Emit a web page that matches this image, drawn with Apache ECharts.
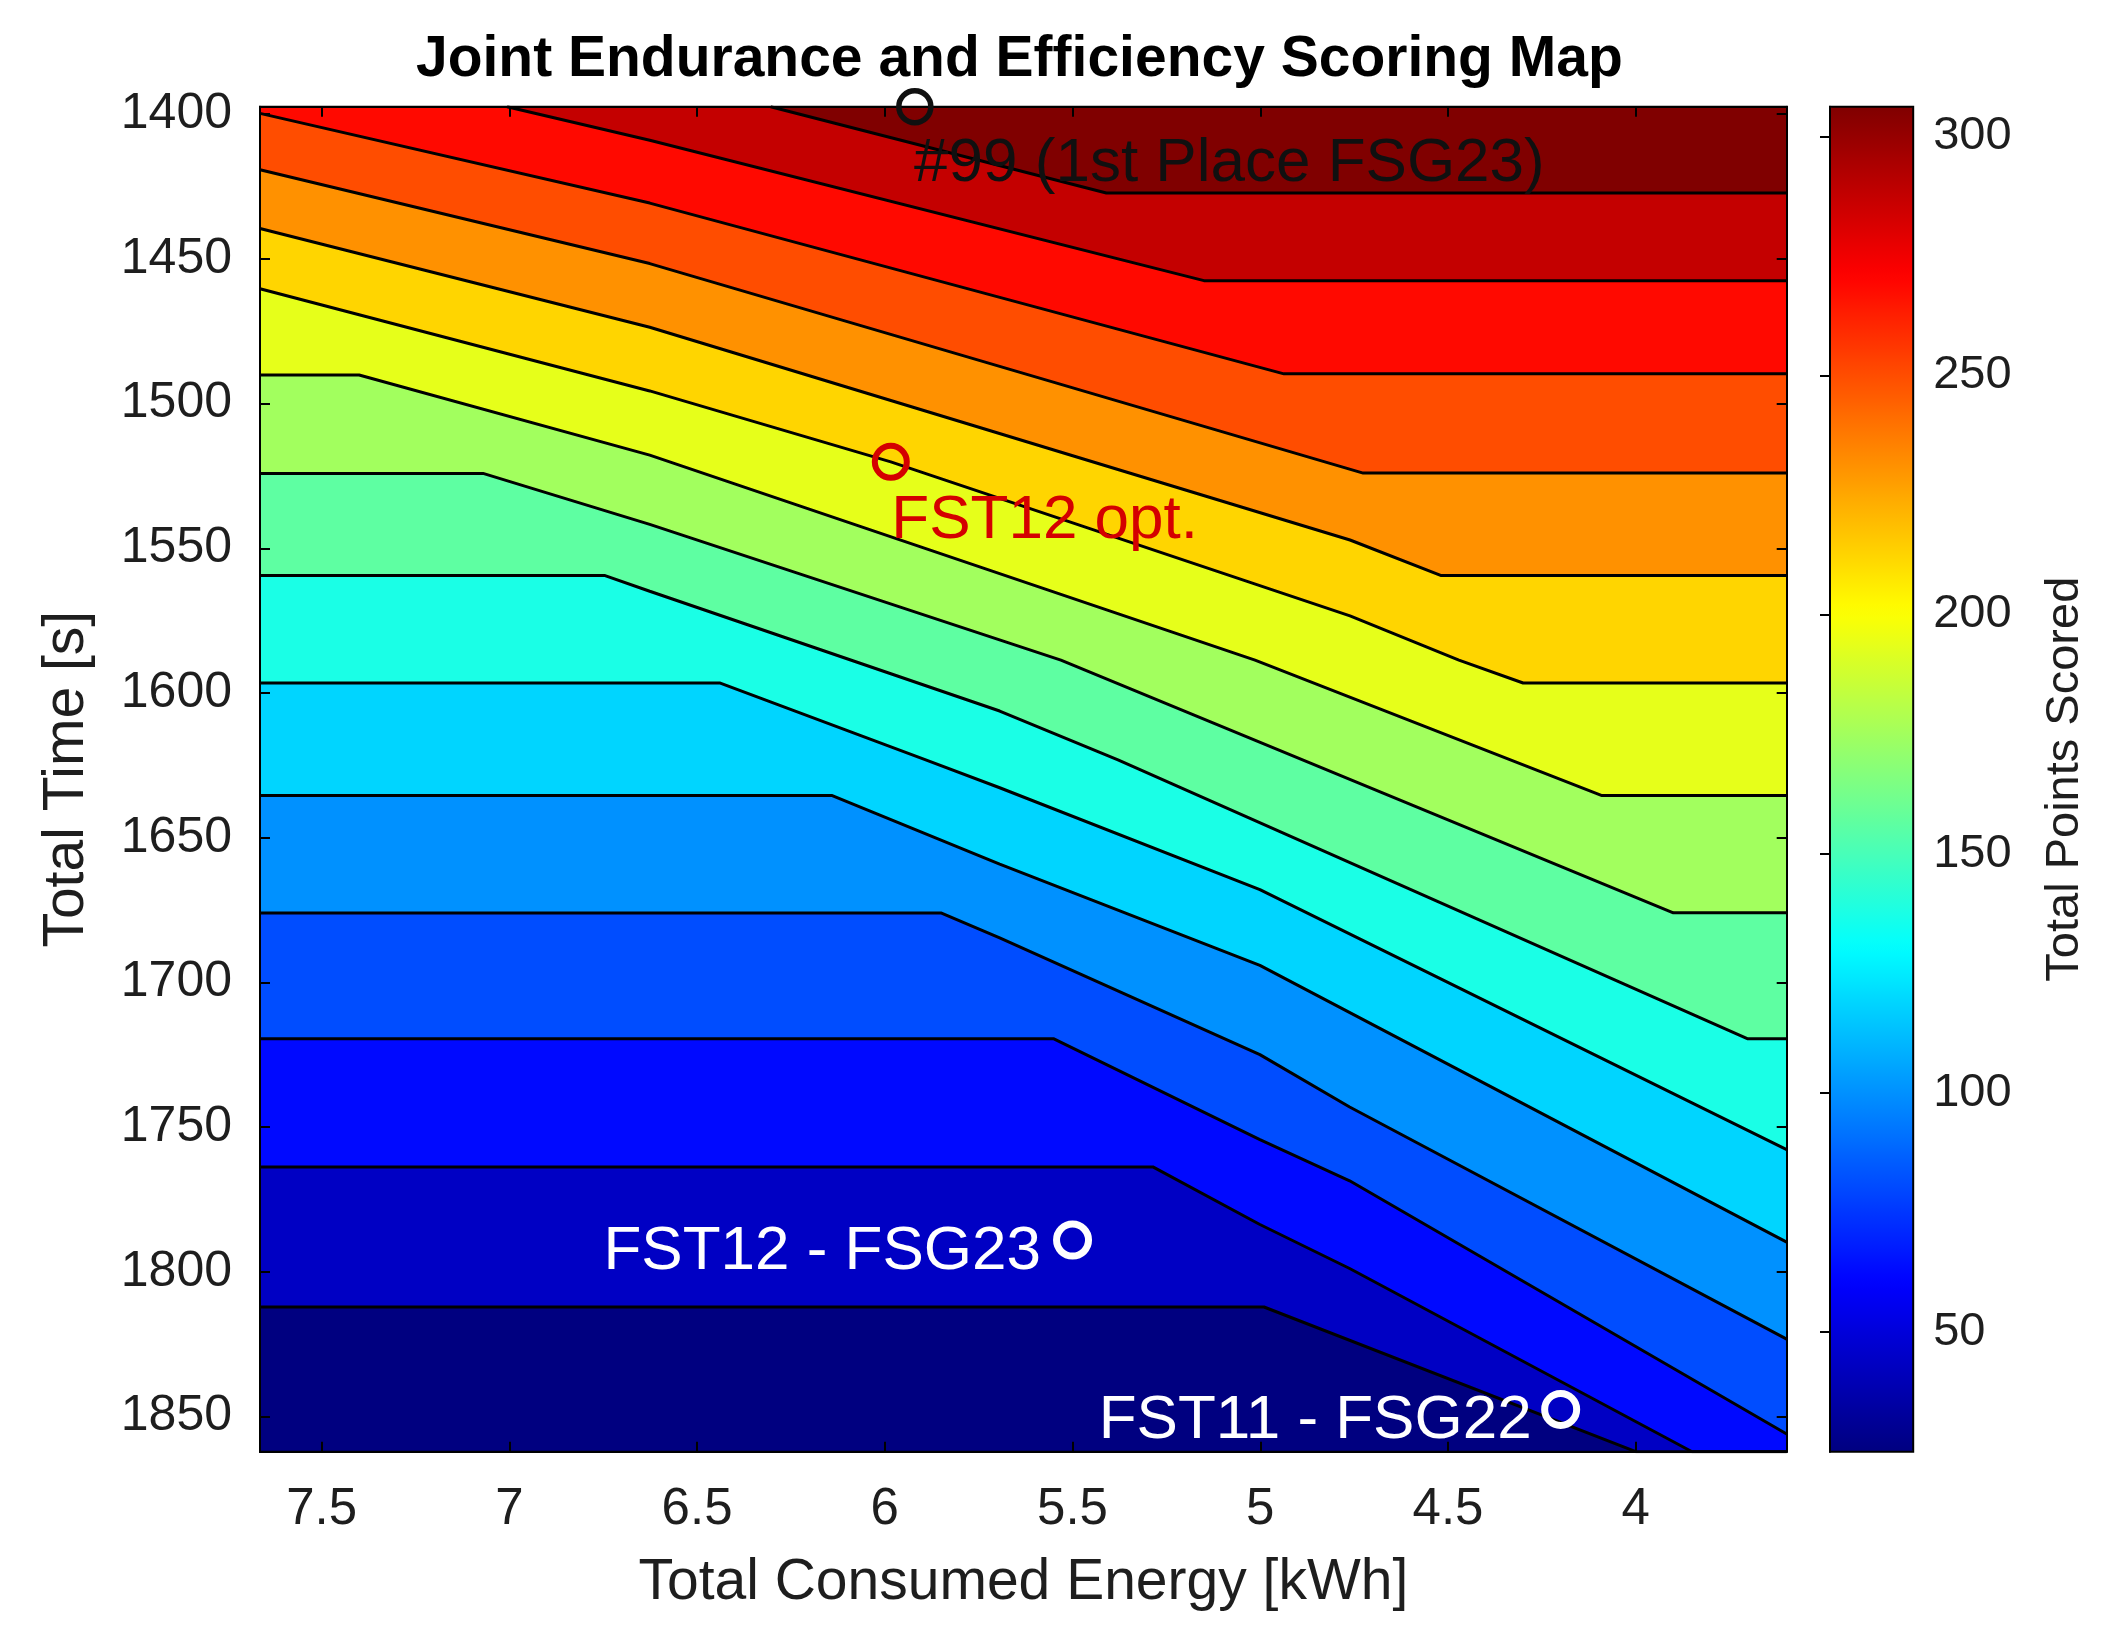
<!DOCTYPE html>
<html>
<head>
<meta charset="utf-8">
<script src="https://cdn.jsdelivr.net/npm/echarts@6/dist/echarts.min.js"></script>
<style>
html,body{margin:0;padding:0;background:#ffffff;}
#chart{width:2117px;height:1650px;}
</style>
</head>
<body>
<div id="chart"></div>
<script>
// ---------------- data ----------------
const energyRange = [3.598, 7.664];          // kWh, axis extents
const timeRange = [1397.4, 1862.1];          // s, axis extents
const scoreRange = [24.9, 306.2];            // colour bar extents
const energyTicks = [4, 4.5, 5, 5.5, 6, 6.5, 7, 7.5];
const timeTicks = [1400, 1450, 1500, 1550, 1600, 1650, 1700, 1750, 1800, 1850];
const scoreTicks = [50, 100, 150, 200, 250, 300];

// score of each filled band, lowest (bottom-left) to highest (top-right)
const bandScores = [24.9, 43.7, 62.4, 81.2, 99.9, 118.7, 137.4, 156.2, 174.9, 193.7, 212.4, 231.2, 249.9, 268.7, 287.4, 306.2];

// contour lines [energy kWh, time s], from the highest score (top) to the lowest
const contour01 = [[6.304, 1397.4], [5.41, 1427.2], [3.598, 1427.2]];
const contour02 = [[7.006, 1397.4], [6.626, 1409.0], [5.15, 1457.5], [3.598, 1457.5]];
const contour03 = [[7.664, 1399.7], [6.626, 1430.7], [4.937, 1489.7], [3.598, 1489.7]];
const contour04 = [[7.664, 1419.2], [6.626, 1451.6], [4.726, 1524.0], [3.598, 1524.0]];
const contour05 = [[7.664, 1439.5], [6.626, 1473.6], [4.761, 1547.1], [4.518, 1559.4], [3.598, 1559.4]];
const contour06 = [[7.664, 1460.3], [6.626, 1495.6], [5.984, 1520.1], [4.761, 1573.3], [4.471, 1588.6], [4.300, 1596.5], [3.598, 1596.5]];
const contour07 = [[7.664, 1490.1], [7.40, 1490.1], [6.626, 1517.8], [5.014, 1588.6], [4.090, 1635.4], [3.598, 1635.4]];
const contour08 = [[7.664, 1524.1], [7.07, 1524.1], [6.626, 1541.7], [5.531, 1588.6], [3.900, 1675.9], [3.598, 1675.9]];
const contour09 = [[7.664, 1559.4], [6.745, 1559.4], [6.626, 1564.8], [5.694, 1606.2], [5.379, 1623.1], [3.703, 1719.4], [3.598, 1719.4]];
const contour10 = [[7.664, 1596.5], [6.44, 1596.5], [5.891, 1623.1], [5.694, 1632.7], [5.001, 1667.9], [3.598, 1757.7]];
const contour11 = [[7.664, 1635.4], [6.14, 1635.4], [5.694, 1659.1], [5.001, 1694.1], [3.598, 1789.7]];
const contour12 = [[7.664, 1676.0], [5.849, 1676.0], [5.694, 1684.6], [5.001, 1724.9], [4.762, 1743.0], [3.598, 1823.2]];
const contour13 = [[7.664, 1719.4], [5.551, 1719.4], [5.001, 1754.3], [4.762, 1768.5], [3.598, 1856.0]];
const contour14 = [[7.664, 1763.7], [5.286, 1763.7], [5.001, 1783.6], [4.762, 1798.8], [3.85, 1862.1], [3.598, 1862.1]];
const contour15 = [[7.664, 1812.1], [4.99, 1812.1], [4.0, 1862.1], [3.598, 1862.1]];

// annotated cars
const markerLabels = ['#99 (1st Place FSG23)', 'FST12 opt.', 'FST12 - FSG23', 'FST11 - FSG22'];
const markerEnergy = [5.92, 5.984, 5.50, 4.20];
const markerTime = [1397.4, 1520.1, 1789.0, 1847.5];

// ---------------- styling ----------------
const FONT = '"Liberation Sans", Arial, Helvetica, sans-serif';
const TXT = '#1e1e1e';
const jetStops = ['#000080', '#0000ff', '#0080ff', '#00ffff', '#80ff80', '#ffff00', '#ff8000', '#ff0000', '#800000'];

function hexToRgb(h) { return [parseInt(h.substr(1, 2), 16), parseInt(h.substr(3, 2), 16), parseInt(h.substr(5, 2), 16)]; }
function jet(v) {
  let t = (v - scoreRange[0]) / (scoreRange[1] - scoreRange[0]);
  t = Math.max(0, Math.min(1, t));
  const p = t * (jetStops.length - 1);
  const i = Math.min(Math.floor(p), jetStops.length - 2);
  const f = p - i;
  const a = hexToRgb(jetStops[i]), b = hexToRgb(jetStops[i + 1]);
  const c = a.map((x, k) => Math.round(x + (b[k] - x) * f));
  return 'rgb(' + c.join(',') + ')';
}
const plain = v => String(v);

const contoursLowToHigh = [contour15, contour14, contour13, contour12, contour11, contour10, contour09,
  contour08, contour07, contour06, contour05, contour04, contour03, contour02, contour01];

const series = contoursLowToHigh.map((pts, i) => ({
  type: 'line',
  xAxisIndex: 0,
  yAxisIndex: 0,
  data: pts,
  symbol: 'none',
  showSymbol: false,
  smooth: false,
  silent: true,
  clip: true,
  z: 2,
  lineStyle: { color: '#000000', width: 3 },
  areaStyle: { color: jet(bandScores[i + 1]), opacity: 1, origin: 'start' }
}));

const markerStyles = [
  { color: '#101010', border: 5.5, pos: [18, 76], align: 'left' },
  { color: '#d40000', border: 6, pos: [19.5, 78.5], align: 'left' },
  { color: '#ffffff', border: 7, pos: [-12, 31.6], align: 'right' },
  { color: '#ffffff', border: 7, pos: [-9.5, 31], align: 'right' }
];

series.push({
  type: 'scatter',
  xAxisIndex: 0,
  yAxisIndex: 0,
  clip: false,
  silent: true,
  z: 6,
  symbol: 'circle',
  symbolSize: 32,
  itemStyle: { opacity: 1 },
  data: markerLabels.map((name, i) => ({
    name: name,
    value: [markerEnergy[i], markerTime[i]],
    itemStyle: { color: 'rgba(0,0,0,0)', borderColor: markerStyles[i].color, borderWidth: markerStyles[i].border, opacity: 1 },
    label: {
      show: true,
      formatter: '{b}',
      position: markerStyles[i].pos,
      align: markerStyles[i].align,
      verticalAlign: 'middle',
      fontSize: 62,
      lineHeight: 62,
      fontFamily: FONT,
      color: markerStyles[i].color,
      opacity: 1
    }
  }))
});

const tickStyle = { color: '#000000', width: 2 };
const axisLineStyle = { show: true, lineStyle: { color: '#000000', width: 2 } };

const option = {
  animation: false,
  backgroundColor: '#ffffff',
  title: {
    text: 'Joint Endurance and Efficiency Scoring Map',
    left: 416,
    top: 32,
    padding: 0,
    textStyle: { fontSize: 57, lineHeight: 57, fontWeight: 'bold', color: '#000000', fontFamily: FONT }
  },
  grid: [
    { left: 260, top: 106.7, width: 1526.7, height: 1345, show: true, backgroundColor: jet(bandScores[0]), borderColor: '#000000', borderWidth: 2 },
    { left: 1830, top: 106.7, width: 83.2, height: 1345, show: true, backgroundColor: 'rgba(0,0,0,0)', borderColor: '#000000', borderWidth: 2, z: 10 }
  ],
  xAxis: [
    {
      gridIndex: 0, type: 'value', min: energyRange[0], max: energyRange[1], inverse: true, position: 'bottom', z: 5,
      axisLine: axisLineStyle,
      axisTick: { show: true, inside: true, length: 10, customValues: energyTicks, lineStyle: tickStyle },
      axisLabel: { show: true, customValues: energyTicks, formatter: plain, fontSize: 51, lineHeight: 51, margin: 33, color: TXT, fontFamily: FONT },
      splitLine: { show: false },
      name: 'Total Consumed Energy [kWh]', nameLocation: 'middle', nameGap: 103,
      nameTextStyle: { fontSize: 57, lineHeight: 57, color: TXT, fontFamily: FONT }
    },
    {
      gridIndex: 0, type: 'value', min: energyRange[0], max: energyRange[1], inverse: true, position: 'top', z: 5,
      axisLine: axisLineStyle,
      axisTick: { show: true, inside: true, length: 10, customValues: energyTicks, lineStyle: tickStyle },
      axisLabel: { show: false },
      splitLine: { show: false }
    },
    { gridIndex: 1, type: 'value', min: 0, max: 1, show: false }
  ],
  yAxis: [
    {
      gridIndex: 0, type: 'value', min: timeRange[0], max: timeRange[1], inverse: true, position: 'left', z: 5,
      axisLine: axisLineStyle,
      axisTick: { show: true, inside: true, length: 10, customValues: timeTicks, lineStyle: tickStyle },
      axisLabel: { show: true, customValues: timeTicks, formatter: plain, fontSize: 50, lineHeight: 50, margin: 28, color: TXT, fontFamily: FONT },
      splitLine: { show: false },
      name: 'Total Time [s]', nameLocation: 'middle', nameGap: 164, nameRotate: 90,
      nameTextStyle: { fontSize: 57, lineHeight: 57, color: TXT, fontFamily: FONT }
    },
    {
      gridIndex: 0, type: 'value', min: timeRange[0], max: timeRange[1], inverse: true, position: 'right', z: 5,
      axisLine: axisLineStyle,
      axisTick: { show: true, inside: true, length: 10, customValues: timeTicks, lineStyle: tickStyle },
      axisLabel: { show: false },
      splitLine: { show: false }
    },
    {
      gridIndex: 1, type: 'value', min: scoreRange[0], max: scoreRange[1], position: 'right', z: 10,
      axisLine: axisLineStyle,
      axisTick: { show: true, inside: true, length: 10, customValues: scoreTicks, lineStyle: tickStyle },
      axisLabel: { show: true, customValues: scoreTicks, formatter: plain, fontSize: 47, lineHeight: 47, margin: 20, color: TXT, fontFamily: FONT },
      splitLine: { show: false },
      name: 'Total Points Scored', nameLocation: 'middle', nameGap: 128, nameRotate: 90,
      nameTextStyle: { fontSize: 47, lineHeight: 47, color: TXT, fontFamily: FONT }
    }
  ],
  visualMap: {
    type: 'continuous',
    show: true,
    seriesIndex: [],
    min: scoreRange[0],
    max: scoreRange[1],
    calculable: false,
    realtime: false,
    hoverLink: false,
    orient: 'vertical',
    left: 1830,
    top: 106.7,
    itemWidth: 83.2,
    itemHeight: 1345,
    padding: 0,
    z: 4,
    inRange: { color: jetStops }
  },
  series: series
};

const chart = echarts.init(document.getElementById('chart'), null, { renderer: 'canvas' });
chart.setOption(option);
</script>
</body>
</html>
